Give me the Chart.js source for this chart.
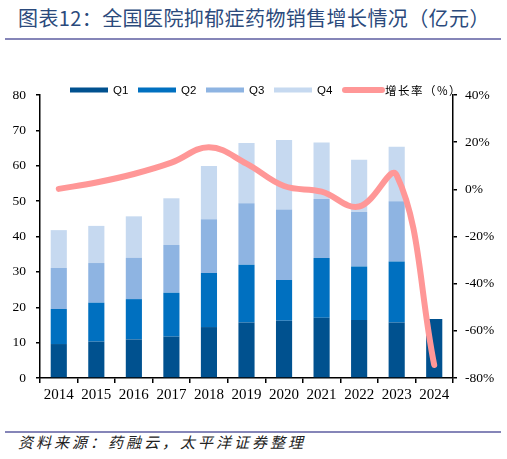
<!DOCTYPE html>
<html>
<head>
<meta charset="utf-8">
<script src="https://cdn.jsdelivr.net/npm/chart.js@4.4.0/dist/chart.umd.min.js"></script>
<style>
  body { margin: 0; background: #fff; }
  #page { position: relative; width: 507px; height: 459px; overflow: hidden; }
  #title {
    position: absolute; left: 18px; top: 3px;
    font-family: 'Noto Sans CJK SC', sans-serif; font-size: 20px;
    color: #2b4a7c; letter-spacing: 0.4px; white-space: nowrap;
  }
  .rule { position: absolute; left: 5px; width: 496px; height: 1.5px; background: #8585b8; }
  #source {
    position: absolute; left: 18px; top: 431px;
    font-family: 'Noto Sans CJK SC', sans-serif; font-size: 15px; font-style: italic;
    color: #222; letter-spacing: 3px; white-space: nowrap;
  }
  #wrap { position: absolute; left: 0; top: 50px; width: 507px; height: 350px; }
</style>
</head>
<body>
<div id="page">
  <div id="title">图表12：全国医院抑郁症药物销售增长情况（亿元）</div>
  <div class="rule" style="top:38px"></div>
  <div id="wrap"><canvas id="myChart"></canvas></div>
  <div class="rule" style="top:431px"></div>
  <div id="source">资料来源：药融云，太平洋证券整理</div>
</div>
<script>
'use strict';

let years = ['2014', '2015', '2016', '2017', '2018', '2019', '2020', '2021', '2022', '2023', '2024'];
let q1 = [9.6, 10.3, 10.9, 11.7, 14.4, 15.7, 16.2, 17.0, 16.4, 15.7, 16.7];
let q2 = [9.9, 11.0, 11.4, 12.4, 15.3, 16.3, 11.5, 16.9, 15.1, 17.2, null];
let q3 = [11.6, 11.2, 11.7, 13.5, 15.2, 17.4, 19.9, 16.7, 15.4, 17.1, null];
let q4 = [10.7, 10.5, 11.7, 13.2, 15.0, 17.0, 19.7, 16.0, 14.8, 15.4, null];
let growth = [0.2, 2.9, 6.5, 11.3, 17.8, 10.9, 1.4, -1.0, -7.3, 6.0, -74.5];

let leftTicks = { min: 0, max: 80, step: 10 };
let rightTicks = { min: -80, max: 40, step: 20 };

let ctx = document.getElementById('myChart').getContext('2d');
let serif = 'Liberation Serif';

// legend drawn by hand so it can sit right on top of the plot like the original
let legendPlugin = {
  id: 'topLegend',
  afterDraw: function (chart) {
    let c = chart.ctx;
    let x = 70;
    let y = 40;
    chart.data.datasets.forEach(function (ds) {
      c.save();
      if (ds.type === 'line') {
        c.strokeStyle = ds.borderColor;
        c.lineWidth = 6;
        c.lineCap = 'round';
        c.beginPath();
        c.moveTo(x + 3, y);
        c.lineTo(x + 40, y);
        c.stroke();
        c.font = '11.5px "Noto Sans CJK SC"';
        c.letterSpacing = '1.5px';
      } else {
        c.fillStyle = ds.backgroundColor;
        c.fillRect(x, y - 2.5, 38, 5);
        c.font = '11.5px "Liberation Sans"';
      }
      c.fillStyle = '#000';
      c.textBaseline = 'middle';
      c.fillText(ds.label, x + 43, y + 0.5);
      c.restore();
      x += 68;
    });
  }
};

let axisStyle = {
  border: { color: '#000', width: 1.5 },
  grid: { drawOnChartArea: false, color: '#000', tickLength: 4, lineWidth: 1.5 }
};

new Chart(ctx, {
  type: 'bar',
  data: {
    labels: years,
    datasets: [{
      label: 'Q1', data: q1, backgroundColor: '#00518f', order: 1
    }, {
      label: 'Q2', data: q2, backgroundColor: '#0070c0', order: 1
    }, {
      label: 'Q3', data: q3, backgroundColor: '#8eb4e2', order: 1
    }, {
      label: 'Q4', data: q4, backgroundColor: '#c6d9f0', order: 1
    }, {
      type: 'line',
      label: '增长率（%）',
      data: growth,
      yAxisID: 'y1',
      borderColor: '#ff9797',
      borderWidth: 6,
      borderCapStyle: 'round',
      tension: 0.4,
      pointRadius: 0,
      order: 0
    }]
  },
  options: {
    responsive: true,
    maintainAspectRatio: false,
    animation: false,
    barPercentage: 0.43,
    categoryPercentage: 1,
    layout: { padding: { top: 45, left: 0, right: 0, bottom: 0 } },
    plugins: {
      legend: { display: false },
      tooltip: { enabled: false }
    },
    scales: {
      x: {
        stacked: true,
        border: axisStyle.border,
        grid: { drawOnChartArea: false, color: '#000', tickLength: 5, lineWidth: 1.5, offset: true },
        ticks: { color: '#000', font: { family: serif, size: 15 }, padding: 3, maxRotation: 0 },
        afterFit: function (scale) { scale.height = 22; }
      },
      y: {
        stacked: true,
        position: 'left',
        min: leftTicks.min,
        max: leftTicks.max,
        border: axisStyle.border,
        grid: axisStyle.grid,
        ticks: { stepSize: leftTicks.step, color: '#000', font: { family: serif, size: 13.5 }, padding: 10 },
        afterFit: function (scale) { scale.width = 40; }
      },
      y1: {
        position: 'right',
        min: rightTicks.min,
        max: rightTicks.max,
        border: axisStyle.border,
        grid: axisStyle.grid,
        ticks: {
          stepSize: rightTicks.step, color: '#000', font: { family: serif, size: 13.5 }, padding: 8,
          callback: function (v) { return v + '%'; }
        },
        afterFit: function (scale) { scale.width = 54; }
      }
    }
  },
  plugins: [legendPlugin]
});
</script>
</body>
</html>
